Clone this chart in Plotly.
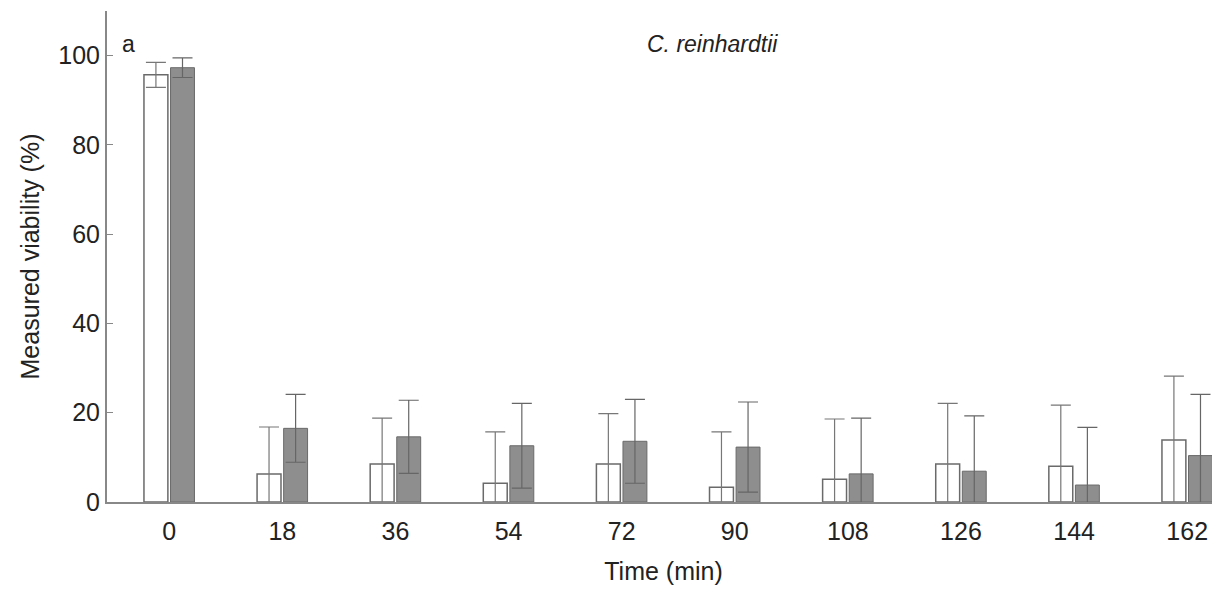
import plotly.graph_objects as go

times = ["0", "18", "36", "54", "72", "90", "108", "126", "144", "162"]
white_vals = [95.7, 6.3, 8.5, 4.2, 8.5, 3.3, 5.1, 8.5, 8.0, 13.9]
white_err = [2.8, 10.5, 10.3, 11.5, 11.3, 12.4, 13.5, 13.6, 13.7, 14.3]
gray_vals = [97.3, 16.5, 14.6, 12.6, 13.6, 12.3, 6.3, 6.9, 3.8, 10.4]
gray_err = [2.2, 7.6, 8.2, 9.5, 9.4, 10.1, 12.5, 12.4, 12.9, 13.7]

yticks = [0, 20, 40, 60, 80, 100]

fig = go.Figure()
fig.add_trace(go.Bar(
    x=times, y=white_vals,
    marker=dict(color="white", line=dict(color="#6a6a6a", width=1.5)),
    error_y=dict(type="data", array=white_err, symmetric=True, color="#777777", thickness=1.2, width=10),
    showlegend=False,
))
fig.add_trace(go.Bar(
    x=times, y=gray_vals,
    marker=dict(color="#8e8e8e", line=dict(color="#6a6a6a", width=1)),
    error_y=dict(type="data", array=gray_err, symmetric=True, color="#666666", thickness=1.2, width=10),
    showlegend=False,
))

fig.update_layout(
    width=1212, height=584,
    margin=dict(l=99, r=0, t=3, b=90),
    paper_bgcolor="white", plot_bgcolor="white",
    barmode="group", bargap=0.53, bargroupgap=0.1,
    font=dict(family="Liberation Sans, Arial, sans-serif", size=25, color="#222222"),
    xaxis=dict(
        type="category", range=[-0.55, 9.29], automargin=False,
        showline=True, linecolor="#888888", linewidth=2,
        ticks="", showgrid=False, zeroline=False, ticklabelstandoff=6,
        title=dict(text="Time (min)", standoff=18, font=dict(size=25)),
    ),
    yaxis=dict(
        range=[0, 110], tickvals=yticks, automargin=False,
        showline=True, linecolor="#888888", linewidth=2,
        ticks="inside", ticklen=6, tickcolor="#888888",
        showgrid=False, zeroline=False,
        title=dict(text="Measured viability (%)", standoff=12, font=dict(size=25)),
    ),
    annotations=[
        dict(text="a", x=0.012, xref="paper", y=102.5, yref="y", showarrow=False,
             xanchor="left", font=dict(size=23)),
        dict(text="<i>C. reinhardtii</i>", x=4.8, xref="x", y=102.5, yref="y",
             showarrow=False, xanchor="center", font=dict(size=23)),
    ],
)

fig.write_html("out.html")
